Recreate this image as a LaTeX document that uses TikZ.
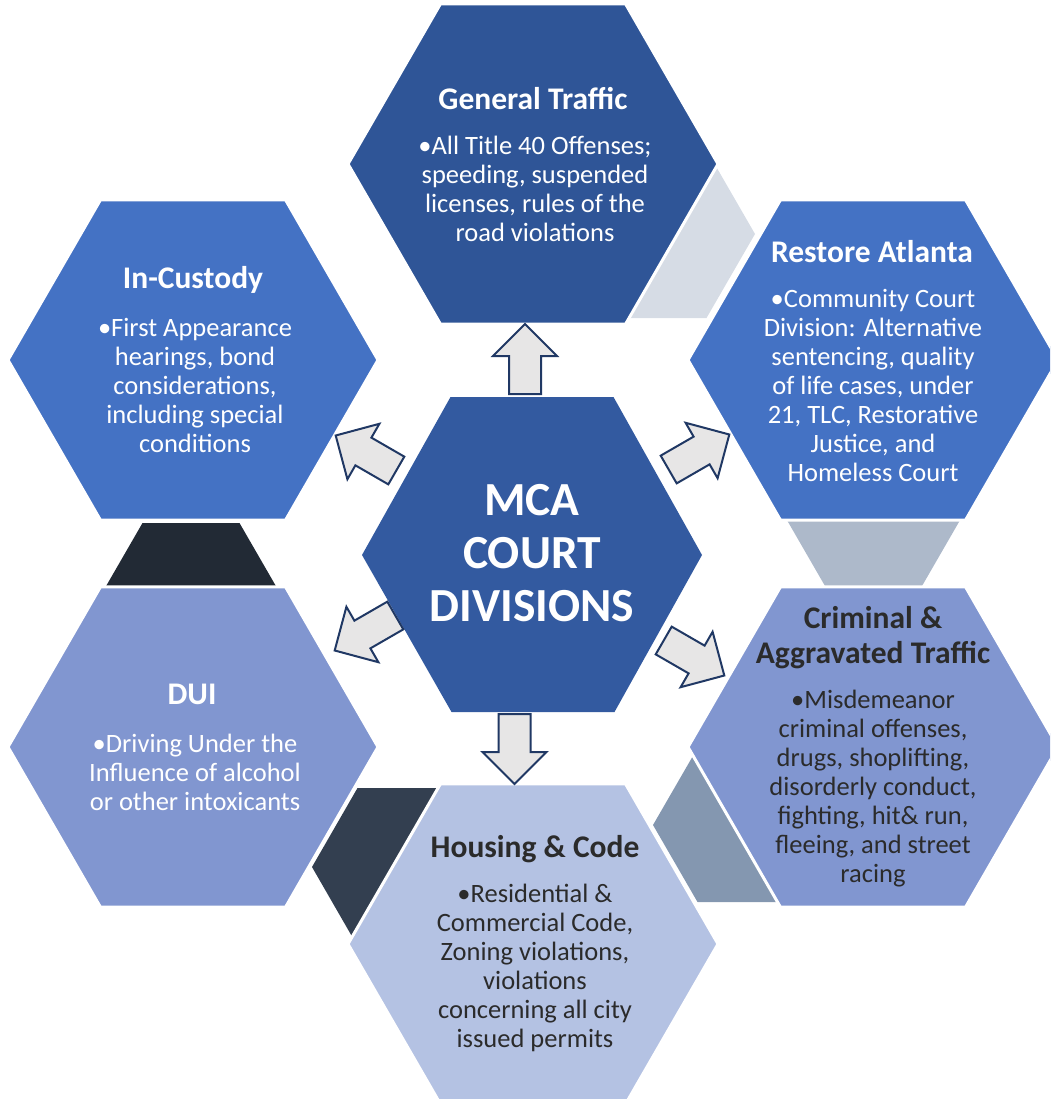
\documentclass[tikz,border=0pt]{standalone}
\usepackage{fontspec}
\setmainfont{Carlito}
\usetikzlibrary{shapes.geometric}
\definecolor{cTop}{HTML}{2F5597}
\definecolor{cMid}{HTML}{4472C4}
\definecolor{cCen}{HTML}{335AA0}
\definecolor{cLow}{HTML}{8196D0}
\definecolor{cHou}{HTML}{B4C2E3}
\definecolor{sOne}{HTML}{D6DCE5}
\definecolor{sTwo}{HTML}{ADB9CA}
\definecolor{sThree}{HTML}{8497B0}
\definecolor{sFour}{HTML}{333F50}
\definecolor{sFive}{HTML}{222A35}
\definecolor{arFill}{HTML}{E7E6E6}
\definecolor{arLine}{HTML}{203864}
\definecolor{darkText}{HTML}{2B2B2B}
\newcommand{\smallhex}[6]{\fill[#6] (#1-#3,#2) -- (#1-#4,#2-#5) -- (#1+#4,#2-#5) -- (#1+#3,#2) -- (#1+#4,#2+#5) -- (#1-#4,#2+#5) -- cycle;}
\newcommand{\blockarrow}[3]{\begin{scope}[shift={(#1,#2)},rotate=#3]
\filldraw[blockar] (-35,-16) -- (3,-16) -- (3,-32) -- (35,0) -- (3,32) -- (3,16) -- (-35,16) -- cycle;
\end{scope}}
\begin{document}
\begin{tikzpicture}[x=1pt,y=-1pt,
  hexnode/.style={regular polygon, regular polygon sides=6, minimum size=370pt, inner sep=0pt, draw=white, line width=3pt},
  ttl/.style={font=\fontsize{31.5}{34}\selectfont\bfseries, align=center, inner sep=0pt},
  bdy/.style={font=\fontsize{26.5}{29}\selectfont, align=center, inner sep=0pt},
  blockar/.style={fill=arFill, draw=arLine, line width=2pt, line join=miter}]
\useasboundingbox (0,0) rectangle (1050,1099);
\clip (0,0) rectangle (1050,1099);
% small connecting hexagons (behind)
\smallhex{658}{234}{97}{48.5}{84}{sOne}
\smallhex{873.5}{502}{97}{48.5}{84}{sTwo}
\smallhex{742}{825}{89}{44.5}{77}{sThree}
\smallhex{403}{867}{91}{45.5}{79}{sFour}
\smallhex{191}{607}{97}{48.5}{84}{sFive}
% outer hexagons
\node[hexnode, fill=cTop] (gt) at (533,164) {};
\node[hexnode, fill=cMid] (ic) at (193,360) {};
\node[hexnode, fill=cMid] (ra) at (873,360) {};
\node[hexnode, fill=cLow] (dui) at (193,747) {};
\node[hexnode, fill=cLow] (cr) at (873,747) {};
\node[hexnode, fill=cHou] (hc) at (533,944) {};
% centre hexagon
\fill[cCen] (362,555) -- (450.5,397) -- (613.5,397) -- (702,555) -- (614.5,712) -- (451.5,712) -- cycle;
\node[font=\fontsize{47.5}{53}\selectfont\bfseries, align=center, inner sep=0pt, text=white] (mca) at (532,553) {MCA\\COURT\\DIVISIONS};
% arrows
\blockarrow{525}{359}{90}
\blockarrow{699}{452}{30}
\blockarrow{366}{453}{150}
\blockarrow{365}{633}{210}
\blockarrow{694}{658}{330}
\blockarrow{514.5}{749}{270}
% texts
\node[ttl, text=white] (gtT) at (533,99) {General Traffic};
\node[bdy, text=white] (gtB) at (535,188.5) {•All Title 40 Offenses;\\speeding, suspended\\licenses, rules of the\\road violations};
\node[ttl, text=white] (icT) at (193,280) {In-Custody};
\node[bdy, text=white] (icB) at (195,385) {•First Appearance\\hearings, bond\\considerations,\\including special\\conditions};
\node[ttl, text=white] (raT) at (872,252) {Restore Atlanta};
\node[bdy, text=white] (raB) at (873,385) {•Community Court\\Division: Alternative\\sentencing, quality\\of life cases, under\\21, TLC, Restorative\\Justice, and\\Homeless Court};
\node[ttl, text=darkText, font=\fontsize{31.5}{35}\selectfont\bfseries] (crT) at (873,637.5) {Criminal \&\\Aggravated Traffic};
\node[bdy, text=darkText] (crB) at (873,789) {•Misdemeanor\\criminal offenses,\\drugs, shoplifting,\\disorderly conduct,\\fighting, hit\& run,\\fleeing, and street\\racing};
\node[ttl, text=white] (duiT) at (192,694) {DUI};
\node[bdy, text=white] (duiB) at (195,772) {•Driving Under the\\Influence of alcohol\\or other intoxicants};
\node[ttl, text=darkText] (hcT) at (535,849) {Housing \& Code};
\node[bdy, text=darkText] (hcB) at (535,967.5) {•Residential \&\\Commercial Code,\\Zoning violations,\\violations\\concerning all city\\issued permits};
\end{tikzpicture}
\end{document}
